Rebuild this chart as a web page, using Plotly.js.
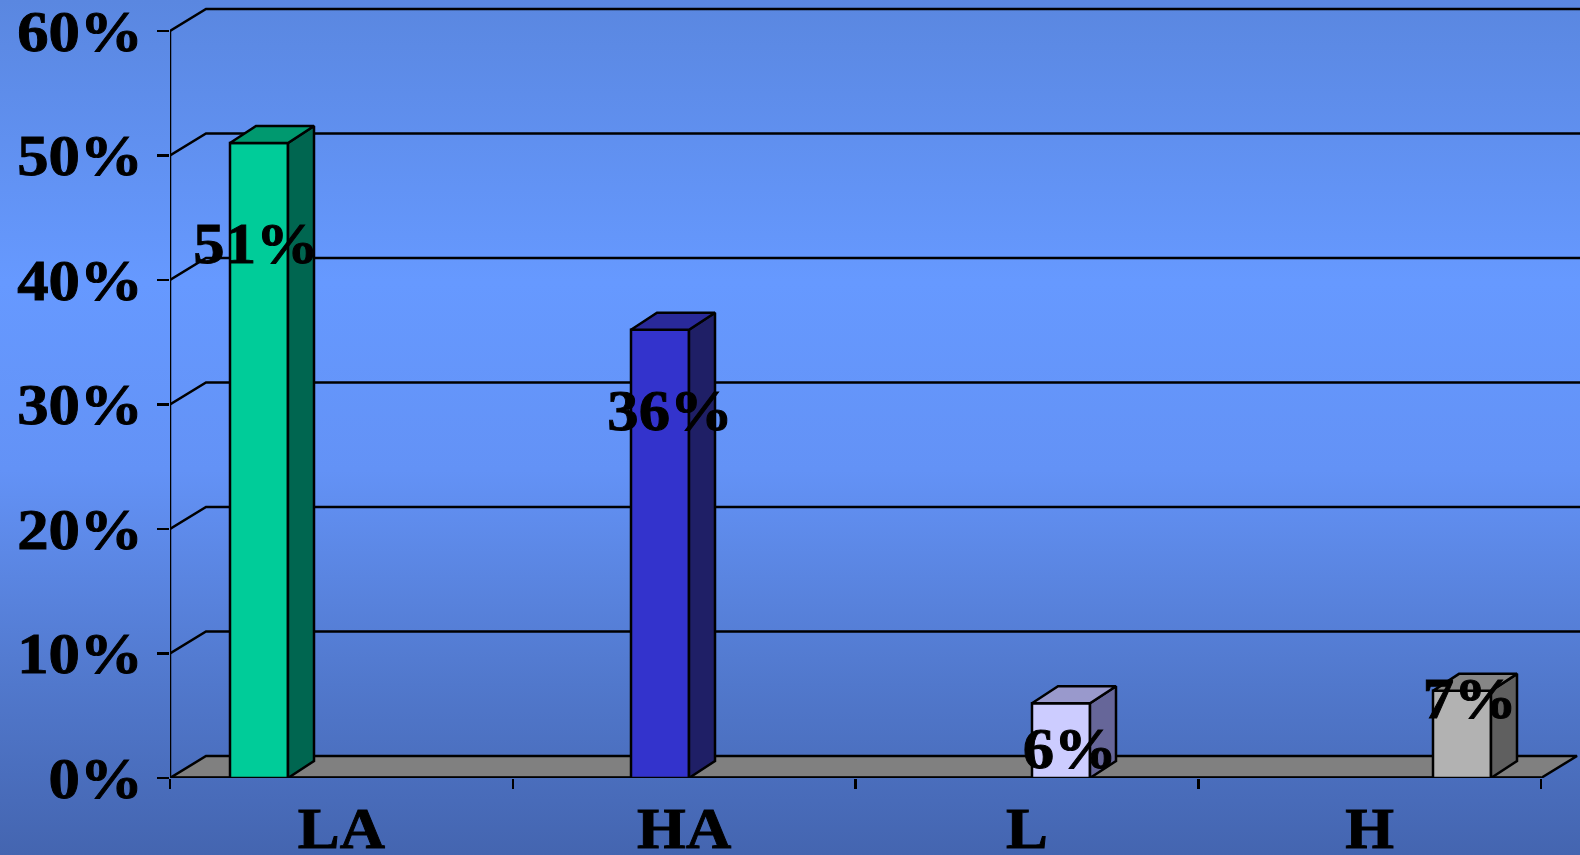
<!DOCTYPE html>
<html>
<head>
<meta charset="utf-8">
<script src="https://cdn.plot.ly/plotly-3.0.1.min.js"></script>
<style>
  html, body { margin: 0; padding: 0; }
  body {
    width: 1580px; height: 855px; overflow: hidden;
    background: linear-gradient(to bottom, #5a87e0 0%, #6699ff 33%, #6392f6 55%, #5178cc 80%, #4465b0 100%);
  }
  #chart { width: 1580px; height: 855px; }
</style>
</head>
<body>
<div id="chart"></div>
<script>
// ---- data ----
const categories = ['LA', 'HA', 'L', 'H'];
const values = [0.51, 0.36, 0.06, 0.07];
const valueLabels = ['51%', '36%', '6%', '7%'];
const yTickValues = [0, 0.1, 0.2, 0.3, 0.4, 0.5, 0.6];

// ---- styles ----
const frontColors = ['#00CC99', '#3333CC', '#CCCCFF', '#B2B2B2'];
const sideColors = ['#006650', '#1F1F66', '#666699', '#5F5F5F'];
const topColors = ['#00996F', '#29299A', '#9999CC', '#868686'];
const FONT = '"Liberation Serif", "Times New Roman", serif';
const FSIZE = 57;
const STRETCH = 1.1;   // reference text is slightly wider than the font
const LW = 2.5;

// ---- geometry (pixel scale -> data units) ----
const PLOT_W = 1410, PLOT_H = 778;
const PX_CAT = 342.75;          // px per category on the wall axis
const PX_BAR = 401;             // px between bars
const PX_Y = 1245;              // px per 100%
const WALL_DX = 36 / PX_CAT, WALL_DY = 22 / PX_Y;
const BAR_W = 58 / PX_BAR, BAR_DX = 26 / PX_BAR, BAR_DY = 17 / PX_Y;
const nCat = categories.length;
const xRange = [0, PLOT_W / PX_CAT];
const barStart = -(259 - 170) / PX_BAR;
const barRange = [barStart, barStart + PLOT_W / PX_BAR];
const yRange = [0, PLOT_H / PX_Y];

const traces = [];

// floor
traces.push({
  type: 'scatter', mode: 'lines', xaxis: 'x', yaxis: 'y',
  x: [0, nCat, nCat + WALL_DX, WALL_DX, 0],
  y: [0, 0, WALL_DY, WALL_DY, 0],
  fill: 'toself', fillcolor: '#808080',
  line: { color: 'black', width: LW }, hoverinfo: 'skip', showlegend: false
});
// front floor edge
traces.push({
  type: 'scatter', mode: 'lines', xaxis: 'x', yaxis: 'y',
  x: [0, nCat], y: [0, 0],
  line: { color: 'black', width: 3.5 }, hoverinfo: 'skip', showlegend: false
});
// wall grid lines
const gx = [], gy = [];
yTickValues.slice(1).forEach(v => {
  gx.push(0, WALL_DX, xRange[1], null);
  gy.push(v, v + WALL_DY, v + WALL_DY, null);
});
traces.push({
  type: 'scatter', mode: 'lines', xaxis: 'x', yaxis: 'y',
  x: gx, y: gy, line: { color: 'black', width: LW },
  hoverinfo: 'skip', showlegend: false
});
// value axis line
traces.push({
  type: 'scatter', mode: 'lines', xaxis: 'x', yaxis: 'y',
  x: [0, 0], y: [0, yTickValues[yTickValues.length - 1]],
  line: { color: 'black', width: LW }, hoverinfo: 'skip', showlegend: false
});
// dummy for label axis
traces.push({
  type: 'scatter', mode: 'markers', xaxis: 'x2', yaxis: 'y',
  x: [0.5], y: [0], marker: { opacity: 0 }, hoverinfo: 'skip', showlegend: false
});

// 3D faces of bars
values.forEach((v, i) => {
  const x0 = i - BAR_W / 2, x1 = i + BAR_W / 2;
  traces.push({
    type: 'scatter', mode: 'lines', xaxis: 'x3', yaxis: 'y',
    x: [x1, x1 + BAR_DX, x1 + BAR_DX, x1, x1],
    y: [0, BAR_DY, v + BAR_DY, v, 0],
    fill: 'toself', fillcolor: sideColors[i],
    line: { color: 'black', width: LW }, hoverinfo: 'skip', showlegend: false
  });
  traces.push({
    type: 'scatter', mode: 'lines', xaxis: 'x3', yaxis: 'y',
    x: [x0, x0 + BAR_DX, x1 + BAR_DX, x1, x0],
    y: [v, v + BAR_DY, v + BAR_DY, v, v],
    fill: 'toself', fillcolor: topColors[i],
    line: { color: 'black', width: LW }, hoverinfo: 'skip', showlegend: false
  });
});
// front faces
traces.push({
  type: 'bar', xaxis: 'x3', yaxis: 'y',
  x: categories.map((c, i) => i), y: values, width: BAR_W,
  marker: { color: frontColors, line: { color: 'black', width: LW } },
  hoverinfo: 'skip', showlegend: false
});

// value labels (manual placements as in the reference)
const labelPos = [[-0.008, 0.4297], [1.025, 0.2948], [2.022, 0.0241], [3.02, 0.0635]];
const annotations = valueLabels.map((t, i) => ({
  xref: 'x3', yref: 'y', x: labelPos[i][0], y: labelPos[i][1],
  text: t, showarrow: false, xanchor: 'center', yanchor: 'middle',
  font: { family: FONT, size: FSIZE, color: 'black', weight: 'bold' }
}));

const layout = {
  width: 1580, height: 855,
  margin: { l: 170, r: 0, t: 0, b: 77 },
  paper_bgcolor: 'rgba(0,0,0,0)', plot_bgcolor: 'rgba(0,0,0,0)',
  hovermode: false, showlegend: false, barmode: 'overlay',
  xaxis: {
    range: xRange, tickvals: [0, 1, 2, 3, 4], showticklabels: false,
    ticks: 'outside', ticklen: 10, tickwidth: LW, tickcolor: 'black',
    showgrid: false, zeroline: false, showline: false, fixedrange: true
  },
  xaxis2: {
    overlaying: 'x', anchor: 'y', side: 'bottom', range: xRange,
    tickvals: categories.map((c, i) => i + 0.5), ticktext: categories,
    ticks: '', ticklabelstandoff: 12, ticklabeloverflow: 'allow',
    tickfont: { family: FONT, size: FSIZE, color: 'black', weight: 'bold' },
    showgrid: false, zeroline: false, showline: false, fixedrange: true
  },
  xaxis3: {
    overlaying: 'x', anchor: 'y', range: barRange, visible: false, fixedrange: true
  },
  yaxis: {
    range: yRange, tickvals: yTickValues, tickformat: '.0%',
    ticks: 'outside', ticklen: 12, tickwidth: LW, tickcolor: 'black',
    ticklabelstandoff: 3, ticklabeloverflow: 'allow',
    tickfont: { family: FONT, size: FSIZE, color: 'black', weight: 'bold' },
    showgrid: false, zeroline: false, showline: false, fixedrange: true
  },
  annotations: annotations
};

Plotly.newPlot('chart', traces, layout, { displayModeBar: false, staticPlot: true }).then(gd => {
  // widen and thicken text like the reference rendering
  gd.querySelectorAll('.main-svg text').forEach(t => {
    if (!t.textContent) return;
    const b = t.getBBox();
    const anchor = t.getAttribute('text-anchor') || 'start';
    const ax = anchor === 'end' ? b.x + b.width : anchor === 'middle' ? b.x + b.width / 2 : b.x;
    const prev = t.getAttribute('transform') || '';
    t.setAttribute('transform', prev + ' translate(' + ax + ',0) scale(' + STRETCH + ',1) translate(' + (-ax) + ',0)');
    t.style.stroke = 'black';
    t.style.strokeWidth = '0.9px';
  });
});
</script>
</body>
</html>
